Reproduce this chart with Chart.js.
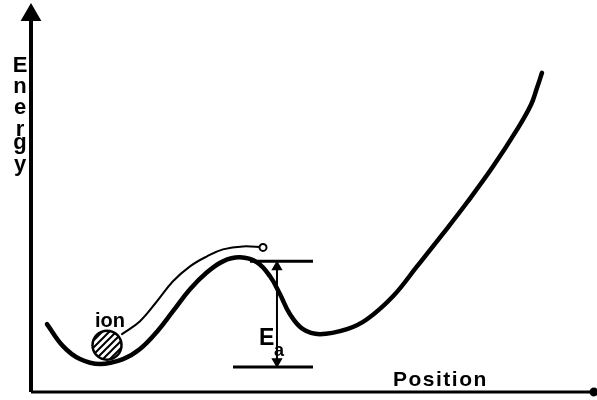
<!DOCTYPE html>
<html>
<head>
<meta charset="utf-8">
<script src="https://cdn.jsdelivr.net/npm/chart.js@4"></script>
<style>
  html, body { margin: 0; padding: 0; background: #fff; }
  #wrap { width: 597px; height: 400px; }
</style>
</head>
<body>
<div id="wrap"><canvas id="chart" width="597" height="400"></canvas></div>
<script>
// potential energy curve (position 0-100, energy 0-100)
const curvePosition = [2.84, 5.68, 8.70, 12.26, 16.34, 19.36, 22.38, 25.22, 28.24, 31.26, 34.10, 37.12, 40.14, 42.45, 44.23, 46.00, 48.31, 51.33, 56.13, 59.68, 64.30, 68.56, 73.18, 77.44, 82.06, 86.32, 88.81, 89.88, 90.76];
const curveEnergy   = [17.99, 12.17, 8.73, 7.41, 8.73, 11.4, 16.0, 21.43, 27.25, 31.75, 34.66, 35.71, 34.39, 30.69, 25.93, 20.63, 16.67, 15.34, 16.67, 19.3, 25.4, 33.3, 42.0, 50.26, 59.79, 69.58, 76.19, 80.69, 84.66];

// thin path the ion takes over the barrier
const pathPosition = [16.16, 19.36, 22.38, 25.22, 28.24, 31.26, 34.10, 37.66, 41.21];
const pathEnergy   = [15.34, 18.78, 24.07, 29.37, 33.33, 35.98, 37.83, 38.62, 38.36];

// ion sitting in the well
const ionPosition = [13.5];
const ionEnergy   = [12.43];

// activation energy markers
const barrierLevel = 34.66;
const wellLevel    = 6.61;
const barrierLineX = [38.9, 50.09];
const wellLineX    = [35.88, 50.09];
const eaArrowX     = 43.69;

const energyLetters = ['E', 'n', 'e', 'r', 'g', 'y'];
const positionLabel = 'Position';

const zip = (xs, ys) => xs.map((x, i) => ({ x, y: ys[i] }));

// hatch pattern for the ion
const pc = document.createElement('canvas');
pc.width = 7; pc.height = 7;
const pctx = pc.getContext('2d');
pctx.fillStyle = '#fff';
pctx.fillRect(0, 0, 7, 7);
pctx.strokeStyle = '#000';
pctx.lineWidth = 2;
pctx.beginPath();
pctx.moveTo(0, 7); pctx.lineTo(7, 0);
pctx.moveTo(-3.5, 3.5); pctx.lineTo(3.5, -3.5);
pctx.moveTo(3.5, 10.5); pctx.lineTo(10.5, 3.5);
pctx.stroke();
const hatch = document.getElementById('chart').getContext('2d').createPattern(pc, 'repeat');

const FONT = '"Liberation Sans", Arial, sans-serif';

const labelsPlugin = {
  id: 'labels',
  afterDatasetsDraw(chart) {
    const ctx = chart.ctx;
    ctx.save();
    ctx.fillStyle = '#000';
    ctx.textAlign = 'center';
    ctx.textBaseline = 'alphabetic';
    ctx.font = 'bold 22px ' + FONT;
    const base = [72, 93, 114, 136, 149, 171];
    energyLetters.forEach((c, i) => ctx.fillText(c, 20, base[i]));

    ctx.textAlign = 'left';
    ctx.font = 'bold 21px ' + FONT;
    ctx.letterSpacing = '1.5px';
    ctx.fillText(positionLabel, 393, 386);
    ctx.letterSpacing = '0px';

    ctx.font = 'bold 20px ' + FONT;
    ctx.fillText('ion', 95, 327);

    ctx.font = 'bold 23px ' + FONT;
    ctx.fillText('E', 259, 345);
    ctx.font = 'bold 18px ' + FONT;
    ctx.fillText('a', 274, 356);
    ctx.restore();
  }
};

new Chart(document.getElementById('chart'), {
  type: 'scatter',
  data: {
    datasets: [
      { // energy axis
        data: [{ x: 0, y: 0 }, { x: 0, y: 100 }],
        showLine: true, borderColor: '#000', borderWidth: 4,
        pointRadius: [0, 8], pointStyle: 'triangle',
        pointBackgroundColor: '#000', pointBorderColor: '#000', clip: false
      },
      { // position axis
        data: [{ x: 0, y: 0 }, { x: 100, y: 0 }],
        showLine: true, borderColor: '#000', borderWidth: 3,
        pointRadius: [0, 3], pointBackgroundColor: '#000', pointBorderColor: '#000', clip: false
      },
      { // energy curve
        data: zip(curvePosition, curveEnergy),
        showLine: true, borderColor: '#000', borderWidth: 4.5, tension: 0.4,
        borderCapStyle: 'round', borderJoinStyle: 'round',
        pointRadius: 0, clip: false
      },
      { // ion path
        data: zip(pathPosition, pathEnergy),
        showLine: true, borderColor: '#000', borderWidth: 2, tension: 0.4,
        borderCapStyle: 'round',
        pointRadius: pathPosition.map((_, i) => i === pathPosition.length - 1 ? 3.5 : 0),
        pointBackgroundColor: '#fff', pointBorderColor: '#000', pointBorderWidth: 2, clip: false
      },
      { // barrier top level
        data: barrierLineX.map(x => ({ x, y: barrierLevel })),
        showLine: true, borderColor: '#000', borderWidth: 3, pointRadius: 0, clip: false
      },
      { // well bottom level
        data: wellLineX.map(x => ({ x, y: wellLevel })),
        showLine: true, borderColor: '#000', borderWidth: 3, pointRadius: 0, clip: false
      },
      { // Ea arrow
        data: [{ x: eaArrowX, y: barrierLevel - 1.5 }, { x: eaArrowX, y: wellLevel + 1.5 }],
        showLine: true, borderColor: '#000', borderWidth: 2,
        pointStyle: 'triangle', pointRadius: 4.5, pointRotation: [0, 180],
        pointBackgroundColor: '#000', pointBorderColor: '#000', clip: false
      },
      { // ion
        data: zip(ionPosition, ionEnergy),
        pointRadius: 14.5, pointBackgroundColor: hatch,
        pointBorderColor: '#000', pointBorderWidth: 2.5, clip: false
      }
    ]
  },
  options: {
    responsive: false,
    animation: false,
    devicePixelRatio: 1,
    layout: { autoPadding: false, padding: { left: 31, right: 3, top: 15, bottom: 8 } },
    plugins: { legend: { display: false }, tooltip: { enabled: false } },
    scales: {
      x: { type: 'linear', min: 0, max: 100, display: false },
      y: { type: 'linear', min: 0, max: 100, display: false }
    }
  },
  plugins: [labelsPlugin]
});
</script>
</body>
</html>
